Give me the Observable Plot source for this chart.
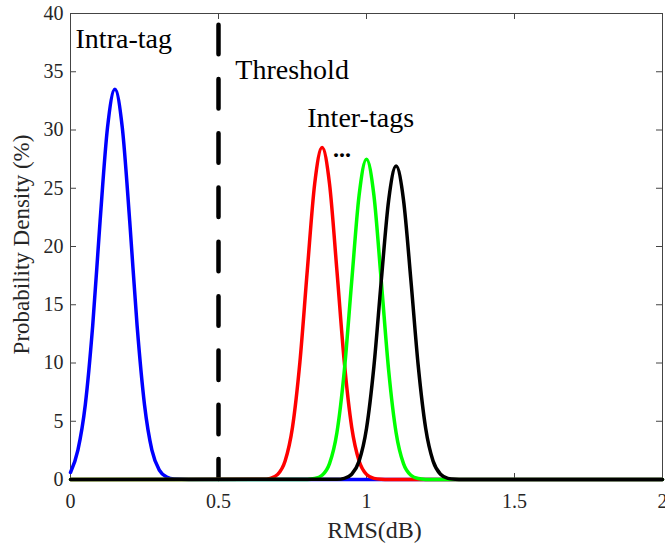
<!DOCTYPE html>
<html>
<head>
<meta charset="utf-8">
<script src="https://cdn.jsdelivr.net/npm/d3@7"></script>
<script src="https://cdn.jsdelivr.net/npm/@observablehq/plot@0.6"></script>
<style>
  html, body { margin: 0; padding: 0; background: #fff; }
  svg text { font-family: "Liberation Serif", "Times New Roman", serif; }
</style>
</head>
<body>
<div id="chart"></div>
<script>
// Tick values
const xTicks = [0, 0.5, 1, 1.5, 2];
const yTicks = [0, 5, 10, 15, 20, 25, 30, 35, 40];

// Threshold position
const threshold = [0.5];

// Intra-tag (blue)
const intraX = [0, 0.025, 0.05, 0.075, 0.1, 0.125, 0.15, 0.175, 0.2, 0.225, 0.25, 0.275, 0.3, 0.325, 0.35, 0.4, 2];
const intraY = [0.6, 2.53, 6.42, 13.2, 22.2, 30.2, 33.5, 30.2, 22.2, 13.2, 6.42, 2.53, 0.81, 0.21, 0.04, 0, 0];

// Inter-tag 1 (red)
const redX = [0, 0.65, 0.675, 0.7, 0.725, 0.75, 0.775, 0.8, 0.825, 0.85, 0.875, 0.9, 0.925, 0.95, 0.975, 1.0, 1.025, 1.05, 1.075, 2];
const redY = [0, 0.02, 0.1, 0.44, 1.59, 4.49, 10.07, 17.95, 25.4, 28.5, 25.4, 17.95, 10.07, 4.49, 1.59, 0.44, 0.1, 0.02, 0, 0];

// Inter-tag 2 (green)
const greenX = [0, 0.8, 0.825, 0.85, 0.875, 0.9, 0.925, 0.95, 0.975, 1.0, 1.025, 1.05, 1.075, 1.1, 1.125, 1.15, 1.175, 1.2, 1.225, 2];
const greenY = [0, 0.01, 0.08, 0.36, 1.36, 4.02, 9.33, 17.0, 24.4, 27.5, 24.4, 17.0, 9.33, 4.02, 1.36, 0.36, 0.08, 0.01, 0, 0];

// Inter-tag 3 (black)
const blackX = [0, 0.9, 0.925, 0.95, 0.975, 1.0, 1.025, 1.05, 1.075, 1.1, 1.125, 1.15, 1.175, 1.2, 1.225, 1.25, 1.275, 1.3, 1.325, 2];
const blackY = [0, 0.02, 0.1, 0.45, 1.58, 4.38, 9.70, 17.1, 24.0, 26.9, 24.0, 17.1, 9.70, 4.38, 1.58, 0.45, 0.1, 0.02, 0, 0];

const seriesColors = ["#0000ff", "#ff0000", "#00ff00", "#000000"];

const xLabel = "RMS(dB)";
const yLabel = "Probability Density (%)";
const annotations = ["Intra-tag", "Threshold", "Inter-tags", "..."];

const toRows = (xs, ys) => xs.map((x, i) => ({x, y: ys[i]}));
const series = [
  toRows(intraX, intraY),
  toRows(redX, redY),
  toRows(greenX, greenY),
  toRows(blackX, blackY)
];

const W = 665, H = 544;
const mL = 70, mR = 3, mT = 13, mB = 65;
const innerW = W - mL - mR, innerH = H - mT - mB;
const tickLen = 6;
const axisColor = "#444";
const serif = "Liberation Serif";
const fmt = d => String(d);

const chart = Plot.plot({
  width: W,
  height: H,
  marginLeft: mL,
  marginRight: mR,
  marginTop: mT,
  marginBottom: mB,
  style: {fontFamily: serif, fontSize: "20px", color: "#262626", background: "#fff"},
  x: {domain: [0, 2]},
  y: {domain: [0, 40]},
  marks: [
    Plot.frame({stroke: axisColor, strokeWidth: 1}),
    // inward ticks on all four sides
    Plot.tickY(yTicks.slice(1, -1), {y: d => d, insetRight: innerW - tickLen, stroke: axisColor}),
    Plot.tickY(yTicks.slice(1, -1), {y: d => d, insetLeft: innerW - tickLen, stroke: axisColor}),
    Plot.tickX(xTicks.slice(1, -1), {x: d => d, insetTop: innerH - tickLen, stroke: axisColor}),
    Plot.tickX(xTicks.slice(1, -1), {x: d => d, insetBottom: innerH - tickLen, stroke: axisColor}),
    Plot.axisX({ticks: xTicks, tickFormat: fmt, tickSize: 0, tickPadding: 14, label: null, fontSize: 20, fontFamily: serif}),
    Plot.axisY({ticks: yTicks, tickFormat: fmt, tickSize: 0, tickPadding: 7, label: null, fontSize: 20, fontFamily: serif}),
    // threshold
    Plot.ruleX(threshold, {x: d => d, y1: 39, y2: 0, stroke: "#000", strokeWidth: 4.5, strokeDasharray: "29.5,24.8", strokeLinecap: "round"}),
    // curves
    ...series.map((rows, i) => Plot.line(rows, {x: "x", y: "y", stroke: seriesColors[i], strokeWidth: 3.5, curve: "monotone-x"})),
    // annotations
    Plot.text([annotations[0]], {x: 0.017, y: 37.0, text: d => d, textAnchor: "start", lineAnchor: "bottom", fontSize: 28, fontFamily: serif, fill: "#000"}),
    Plot.text([annotations[1]], {x: 0.557, y: 34.4, text: d => d, textAnchor: "start", lineAnchor: "bottom", fontSize: 28, fontFamily: serif, fill: "#000"}),
    Plot.text([annotations[2]], {x: 0.80, y: 30.3, text: d => d, textAnchor: "start", lineAnchor: "bottom", fontSize: 28, fontFamily: serif, fill: "#000"}),
    Plot.text([annotations[3]], {x: 0.887, y: 27.7, text: d => d, textAnchor: "start", lineAnchor: "bottom", fontSize: 24, fontWeight: "bold", fontFamily: serif, fill: "#000", style: "letter-spacing: 1.5px"}),
    // axis labels
    Plot.text([xLabel], {frameAnchor: "bottom", text: d => d, dy: 58, dx: 8, textAnchor: "middle", lineAnchor: "bottom", fontSize: 24, fontFamily: serif, fill: "#262626"}),
    Plot.text([yLabel], {frameAnchor: "left", text: d => d, rotate: -90, dx: -42, dy: -2, textAnchor: "middle", lineAnchor: "bottom", fontSize: 23, fontFamily: serif, fill: "#262626"})
  ]
});

document.getElementById("chart").appendChild(chart);
</script>
</body>
</html>
